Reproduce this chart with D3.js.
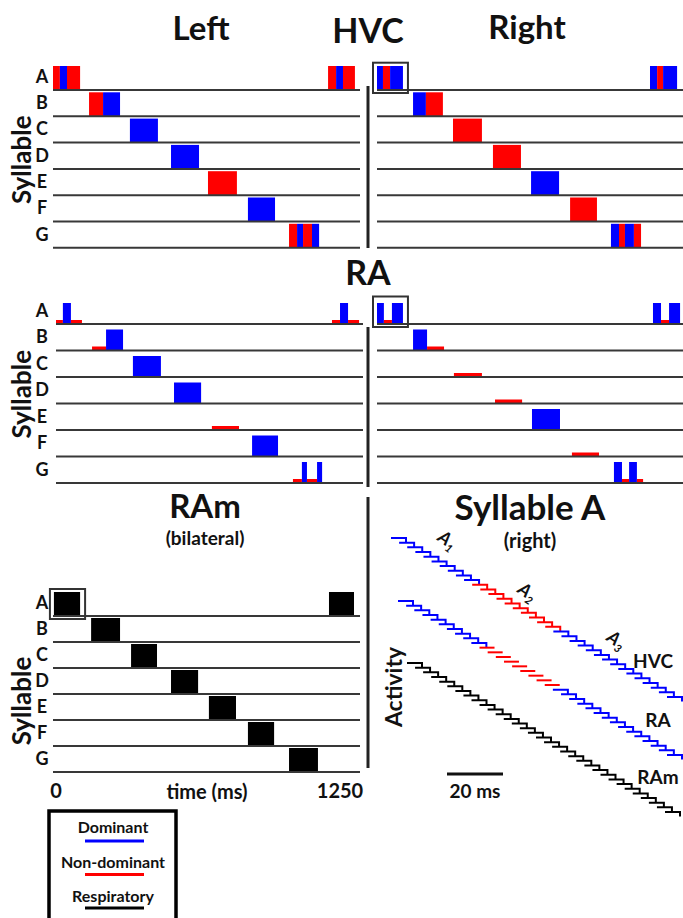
<!DOCTYPE html>
<html><head><meta charset="utf-8">
<script src="https://cdn.jsdelivr.net/npm/d3@7"></script>
<style>
body{margin:0;background:#fff}
svg{display:block}
text{font-family:Lato,'Open Sans',sans-serif;font-weight:700;fill:#111}
</style>
</head><body>
<svg id="chart" width="683" height="918"></svg>
<script>
// ---------- data ----------
const syllables = ["A","B","C","D","E","F","G"];
const tickValues = [0, 1250];
const tickLabels = ["0", "1250"];
// segment rows: [syllable, start ms, end ms, kind]   D = dominant, N = non-dominant, R = respiratory
const hvcLeft = [
  ["A",0,30,"N"],["A",30,61,"D"],["A",61,118,"N"],
  ["B",157,218,"N"],["B",218,292,"D"],
  ["C",335,457,"D"],
  ["D",514,636,"D"],
  ["E",675,801,"N"],
  ["F",849,967,"D"],
  ["G",1028,1063,"N"],["G",1063,1089,"D"],["G",1089,1128,"N"],["G",1128,1159,"D"],
  ["A",1198,1233,"N"],["A",1233,1263,"D"],["A",1263,1315,"N"]
];
const hvcRight = [
  ["A",0,26,"D"],["A",26,57,"N"],["A",57,113,"D"],
  ["B",157,213,"D"],["B",213,287,"N"],
  ["C",331,457,"N"],
  ["D",505,627,"N"],
  ["E",671,793,"D"],
  ["F",841,958,"N"],
  ["G",1019,1054,"D"],["G",1054,1080,"N"],["G",1080,1119,"D"],["G",1119,1150,"N"],
  ["A",1189,1220,"D"],["A",1220,1246,"N"],["A",1246,1307,"D"]
];
const raLeft = [
  ["A",0,30,"N"],["A",30,65,"D"],["A",65,113,"N"],
  ["B",157,218,"N"],["B",218,292,"D"],
  ["C",335,457,"D"],
  ["D",514,632,"D"],
  ["E",679,797,"N"],
  ["F",854,967,"D"],
  ["G",1032,1071,"N"],["G",1071,1093,"D"],["G",1093,1137,"N"],["G",1137,1159,"D"],
  ["A",1202,1237,"N"],["A",1237,1272,"D"],["A",1272,1320,"N"]
];
const raRight = [
  ["A",0,30,"D"],["A",30,65,"N"],["A",65,113,"D"],
  ["B",157,218,"D"],["B",218,292,"N"],
  ["C",335,457,"N"],
  ["D",514,632,"N"],
  ["E",675,797,"D"],
  ["F",849,967,"N"],
  ["G",1032,1067,"D"],["G",1067,1098,"N"],["G",1098,1132,"D"],["G",1132,1159,"N"],
  ["A",1202,1237,"D"],["A",1237,1272,"N"],["A",1272,1320,"D"]
];
const ramBilateral = [
  ["A",4,118,"R"],["B",166,292,"R"],["C",340,453,"R"],["D",514,632,"R"],
  ["E",679,797,"R"],["F",849,963,"R"],["G",1028,1154,"R"],["A",1202,1311,"R"]
];
// syllable A burst sequence (right): [kind, number of bursts]
const stairHVC = [["D",10],["N",10],["D",15]];
const stairRA  = [["D",10],["N",9],["D",15]];
const stairRAm = [["R",33]];
const subLabels = ["1","2","3"];
const legendItems = ["Dominant","Non-dominant","Respiratory"];
const legendKinds = ["D","N","R"];

// ---------- drawing ----------
const color = {D:"#0000ff", N:"#ff0000", R:"#000000"};
const svg = d3.select("#chart");
const lineCol = "#383838";

function title(txt, x, y, size){
  svg.append("text").attr("x",x).attr("y",y).attr("text-anchor","middle")
    .attr("font-size",size).text(txt);
}

function panel(segs, cfg){
  const g = svg.append("g");
  const x = d3.scaleLinear().domain([0,1250]).range([cfg.x0, cfg.x0 + 287]);
  const y = d3.scaleBand().domain(syllables).range([cfg.top, cfg.bottom]).paddingInner(0);
  const bw = y.bandwidth();
  const h = cfg.height;
  g.selectAll("rect.seg").data(segs).join("rect").attr("class","seg")
    .attr("x", d => x(d[1])).attr("width", d => x(d[2]) - x(d[1]))
    .attr("y", d => y(d[0]) + bw - h(d[3])).attr("height", d => h(d[3]))
    .attr("fill", d => color[d[3]]);
  g.selectAll("line.row").data(syllables).join("line").attr("class","row")
    .attr("x1", cfg.lx0).attr("x2", cfg.lx1)
    .attr("y1", d => y(d) + bw).attr("y2", d => y(d) + bw)
    .attr("stroke", lineCol).attr("stroke-width", 2);
  if (cfg.labels){
    g.selectAll("text.syl").data(syllables).join("text").attr("class","syl")
      .attr("x", 42).attr("y", d => y(d) + bw/2 + 6).attr("text-anchor","middle")
      .attr("font-size", 18).text(d => d);
    const cy = cfg.top + (cfg.bottom-cfg.top)/2 + 4 + (cfg.sylShift || 0);
    g.append("text").attr("transform", `translate(31,${cy}) rotate(-90)`)
      .attr("text-anchor","middle").attr("font-size", 26).text("Syllable");
  }
  if (cfg.box){
    const a = segs.filter(d => d[0] === "A" && d[1] < 600);
    const x1 = x(d3.min(a, d => d[1])) - 4, x2 = x(d3.max(a, d => d[2])) + 5;
    g.append("rect").attr("x", x1).attr("y", y("A") - 1)
      .attr("width", x2 - x1).attr("height", bw + 4)
      .attr("fill","none").attr("stroke","#333").attr("stroke-width",2);
  }
  return {x, y};
}

// titles
title("Left", 201, 40, 33);
title("HVC", 368, 43, 34);
title("Right", 527, 39, 33);
title("RA", 368, 285, 34);
title("RAm", 205, 518, 33);
title("(bilateral)", 205, 545, 19);
title("Syllable A", 530, 520, 35);
title("(right)", 530, 548, 20);

const hvcH = () => 24;
const raH = k => k === "D" ? 21 : 4;
panel(hvcLeft,  {x0:53,  lx0:53,  lx1:360, top:63.7,  bottom:247.8, height:hvcH, labels:true});
panel(hvcRight, {x0:377, lx0:377, lx1:683, top:63.7,  bottom:247.8, height:hvcH, box:true});
panel(raLeft,   {x0:56,  lx0:56,  lx1:363, top:297.5, bottom:483,   height:raH, labels:true});
panel(raRight,  {x0:377, lx0:377, lx1:683, top:297.5, bottom:483,   height:raH, box:true});
const ram = panel(ramBilateral, {x0:53, lx0:53, lx1:360, top:590, bottom:772, height:()=>24, labels:true, box:true, sylShift:16});

// time axis labels
svg.selectAll("text.tick").data(tickValues).join("text").attr("class","tick")
  .attr("x", (d,i) => i === 0 ? ram.x(d) + 3 : ram.x(d)).attr("y", 798)
  .attr("text-anchor","middle").attr("font-size", 20).text((d,i) => tickLabels[i]);
svg.append("text").attr("x", 207).attr("y", 799).attr("text-anchor","middle")
  .attr("font-size", 20).text("time (ms)");

// dividers
[[86,248],[327,487],[497,768]].forEach(([a,b]) => {
  svg.append("line").attr("x1",368).attr("x2",368).attr("y1",a).attr("y2",b)
    .attr("stroke","#222").attr("stroke-width",3);
});

// staircases
function stairs(spec, x0, x1, y0, y1, tickNon){
  const items = [];
  spec.forEach(([k,n]) => { for (let i=0;i<n;i++) items.push(k); });
  const sx = d3.scaleLinear().domain([0, items.length-1]).range([x0, x1]);
  const sy = d3.scaleLinear().domain([0, items.length-1]).range([y0, y1]);
  svg.append("g").selectAll("path").data(items).join("path")
    .attr("d", (k,i) => `M${sx(i)},${sy(i)} h15` + (k === "N" && !tickNon ? "" : " v4.5"))
    .attr("fill","none").attr("stroke", k => color[k]).attr("stroke-width", 2);
}
stairs(stairHVC, 391, 667, 538, 697, true);
stairs(stairRA, 398, 667, 601, 755, false);
stairs(stairRAm, 407, 665, 663, 812, true);

// sub-syllable labels
[[444,545],[524,597],[613,645]].forEach(([x,y],i) => {
  const t = svg.append("text").attr("transform", `translate(${x},${y}) rotate(35)`)
    .attr("text-anchor","middle").attr("font-size", 18).attr("font-style","italic");
  t.append("tspan").text("A");
  t.append("tspan").attr("font-size", 11).attr("dy", 4).text(subLabels[i]);
});
title("HVC", 653, 668, 19);
title("RA", 658, 727, 19);
title("RAm", 658, 784, 19);
svg.append("text").attr("transform","translate(402,687) rotate(-90)")
  .attr("text-anchor","middle").attr("font-size", 23).text("Activity");

// scale bar
svg.append("line").attr("x1",447).attr("x2",503).attr("y1",774).attr("y2",774)
  .attr("stroke","#111").attr("stroke-width",3);
title("20 ms", 475, 798, 19);

// legend
svg.append("rect").attr("x",49).attr("y",811).attr("width",127).attr("height",130)
  .attr("fill","none").attr("stroke","#000").attr("stroke-width",3.5);
const lg = svg.append("g");
lg.selectAll("text").data(legendItems).join("text")
  .attr("x",113).attr("y",(d,i)=>833 + i*34.5).attr("text-anchor","middle")
  .attr("font-size",16).text(d=>d);
lg.selectAll("line").data(legendKinds).join("line")
  .attr("x1",85).attr("x2",144).attr("y1",(d,i)=>841 + i*33.5).attr("y2",(d,i)=>841 + i*33.5)
  .attr("stroke",d=>color[d]).attr("stroke-width",3);
</script>
</body></html>
